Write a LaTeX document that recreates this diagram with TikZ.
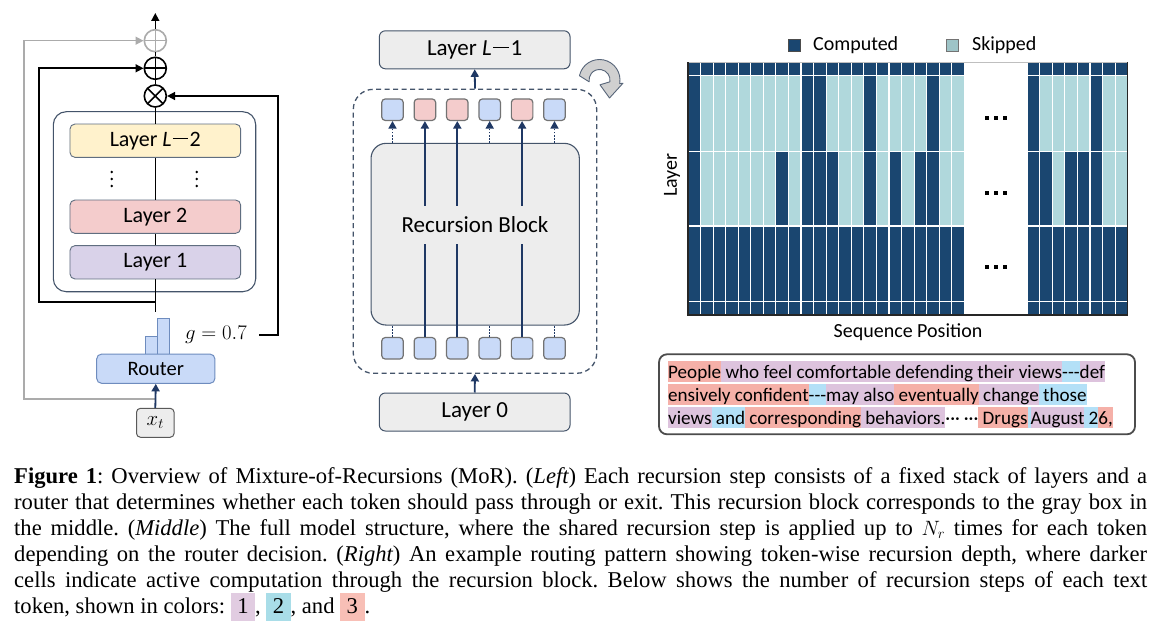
\documentclass[tikz,border=0pt]{standalone}
\usepackage{fontspec}
\setmainfont{Carlito}
\newfontfamily\capfont{Liberation Serif}
\usetikzlibrary{arrows.meta,calc}

\definecolor{navy}{RGB}{31,56,100}
\definecolor{bord}{RGB}{68,84,106}
\definecolor{boxg}{RGB}{237,237,237}
\definecolor{yel}{RGB}{255,242,204}
\definecolor{pnk}{RGB}{244,204,204}
\definecolor{lav}{RGB}{217,210,233}
\definecolor{lblu}{RGB}{201,218,248}
\definecolor{barb}{RGB}{110,140,190}
\definecolor{hmD}{RGB}{26,70,112}
\definecolor{hmL}{RGB}{176,216,220}
\definecolor{skp}{RGB}{158,196,199}
\definecolor{cA}{RGB}{221,195,221}
\definecolor{cB}{RGB}{179,224,247}
\definecolor{cC}{RGB}{245,176,168}
\definecolor{kA}{RGB}{225,204,225}
\definecolor{kB}{RGB}{169,221,232}
\definecolor{kC}{RGB}{248,191,182}
\definecolor{icon}{RGB}{208,208,208}

\newcommand\hlt[2]{{\setlength\fboxsep{0pt}\colorbox{#1}{\rule[-4pt]{0pt}{21.5pt}#2}}}
\newcommand\tdash{\mbox{-}\mbox{-}\mbox{-}}
\newcommand\ldash{\hspace{0.06em}\rule[0.3em]{0.7em}{0.07em}\hspace{0.06em}}
\newcommand\cbx[2]{{\setlength\fboxsep{0pt}\colorbox{#1}{\rule[-8pt]{0pt}{28pt}\hspace{6.5pt}#2\hspace{6.5pt}}}}
\newcommand\hrow[4]{%
  \foreach \v [count=\i from 0] in {#4} {%
    \ifnum\v=1 \def\cc{hmD}\else\def\cc{hmL}\fi
    \path[fill=\cc, draw=white, line width=1.1] ({#3+\i*12.56},#1) rectangle ({#3+\i*12.56+12.56},#2);
  }}

\tikzset{
  lay/.style={draw=bord!85, line width=0.9, rounded corners=5, minimum width=170.7, minimum height=33.3, inner sep=0, font=\fontsize{22}{26}\selectfont},
  mlay/.style={draw=bord, line width=1, fill=boxg, rounded corners=6, minimum width=190.7, minimum height=38, inner sep=0, font=\fontsize{23}{27}\selectfont},
  tok/.style={draw=black!55, line width=1.2, rounded corners=3.5, minimum size=21.5, inner sep=0},
  opc/.style={circle, draw, line width=1.6, minimum size=22, inner sep=0},
  plusp/.style={path picture={\draw[line width=1.6, #1] (path picture bounding box.north) -- (path picture bounding box.south) (path picture bounding box.west) -- (path picture bounding box.east);}},
  crossp/.style={path picture={\draw[line width=1.6] (path picture bounding box.north west) -- (path picture bounding box.south east) (path picture bounding box.north east) -- (path picture bounding box.south west);}},
  conn/.style={line width=1.6, black},
  arr/.style={conn, -{Triangle[length=8pt, width=8pt]}},
  garr/.style={line width=1.5, black!33, -{Triangle[length=8pt, width=8pt]}},
  nline/.style={line width=1.8, navy},
  narr/.style={nline, -{Triangle[length=7.5pt, width=8pt]}},
  ndot/.style={line width=1.5, navy, dash pattern=on 1.5pt off 1.6pt},
  bar/.style={draw=barb, line width=0.9, fill=lblu, inner sep=0},
  lbl/.style={inner sep=0, font=\fontsize{20}{24}\selectfont},
}

\begin{document}
\begin{tikzpicture}[x=1pt, y=-1pt]
\useasboundingbox (0,0) rectangle (1162,631);
\fill[white] (0,0) rectangle (1162,631);

% ================= LEFT =================
\node[draw=bord, line width=1.1, rounded corners=13, minimum width=202.4, minimum height=180, inner sep=0] (outer) at (154.5,201.7) {};
\node[lay, fill=yel] (L2) at (155.3,140.7) {Layer \textit{L}\ldash 2};
\node[lay, fill=pnk] (Lay2) at (155.3,216.7) {Layer 2};
\node[lay, fill=lav] (Lay1) at (155.3,262.3) {Layer 1};
\foreach \xx in {111.7,196.7} \foreach \yy in {172,179,186} \fill ({\xx},{\yy}) circle[radius=1.4];

\node[opc, crossp] (mul) at (155.3,96) {};
\node[opc, plusp=black] (add) at (155.3,68.3) {};
\node[opc, draw=black!33, plusp=black!33] (addg) at (155.3,40.7) {};
\coordinate (topend) at (155.3,13);

\node[bar, minimum width=12, minimum height=17.3] (barS) at (151.3,345.35) {};
\node[bar, minimum width=11.7, minimum height=35.7] (barT) at (163.15,336.15) {};
\node[draw=barb, line width=1, fill=lblu, rounded corners=5, minimum width=118.3, minimum height=29.3, inner sep=0, font=\fontsize{20.5}{24}\selectfont] (router) at (155.8,368.7) {Router};
\node[draw=black!65, line width=1, fill=boxg, rounded corners=4, minimum width=37.6, minimum height=29, inner sep=0, font=\fontsize{22}{26}\selectfont] (xt) at (155.3,422.8) {$x_t$};
\node[inner sep=0, font=\fontsize{21}{25}\selectfont] (glab) at (216,335) {$g = 0.7$};

\draw[arr] (addg.north) -- (topend);
\draw[conn] (add.north) -- (addg.south);
\draw[conn] (mul.north) -- (add.south);
\draw[conn, line width=1.3] (L2.north) -- (mul.south);
\draw[conn, line width=1.3] (Lay2.north) -- (L2.south);
\draw[conn, line width=1.3] (Lay1.north) -- (Lay2.south);
\coordinate (lowend) at (155.3,311.7);
\coordinate (skipb) at (155.3,301.7);
\draw[conn, line width=1.3] (Lay1.south) -- (lowend);
\draw[arr] (skipb) -- ++(-116.3,0) |- (add.west);
\coordinate (gend) at ([xshift=12.5]glab.east);
\draw[arr] (gend) -- ++(18.5,0) |- (mul.east);
\coordinate (gsplit) at (155.3,399);
\draw[garr] (gsplit) -- ++(-131.3,0) |- (addg.west);
\draw[narr] (xt.north) -- (router.south);

% ================= MIDDLE =================
\node[draw=bord, line width=1.3, dash pattern=on 5pt off 3.5pt, rounded corners=20, minimum width=243.4, minimum height=284, inner sep=0] (rec) at (475,231.3) {};
\node[draw=bord, line width=1.1, fill=boxg, rounded corners=15, minimum width=208.3, minimum height=181.7, inner sep=0] (blk2) at (475.2,234.2) {};
\node[inner sep=0, minimum height=38, font=\fontsize{23}{27}\selectfont] (rbt) at (475,225) {Recursion Block};
\node[mlay] (LLm1) at (474.7,49.8) {Layer \textit{L}\ldash 1};
\node[mlay] (L0) at (474.7,412) {Layer 0};

\foreach \i/\c in {1/lblu,2/pnk,3/pnk,4/lblu,5/pnk,6/lblu}
  \node[tok, fill=\c] (t\i) at ({392.5+(\i-1)*32.4},109.7) {};
\foreach \i in {1,...,6}
  \node[tok, fill=lblu] (b\i) at ({392.5+(\i-1)*32.4},348.3) {};
\foreach \i in {2,3,5} {
  \draw[nline] (b\i.north) -- (b\i.north |- rbt.south);
  \draw[narr] (t\i.south |- rbt.north) -- (t\i.south);
}
\foreach \i in {1,4,6} {
  \draw[ndot] (b\i.north) -- (b\i.north |- blk2.south);
  \draw[ndot, -{Triangle[length=7.5pt, width=8pt]}] (t\i.south |- blk2.north) -- (t\i.south);
}
\draw[narr] (L0.north) -- (rec.south);
\draw[narr] (rec.north) -- (LLm1.south);

% recurrence icon
\begin{scope}[shift={(599.5,80)}, yscale=-1]
\filldraw[fill=icon, draw=bord!90, line width=0.9, line join=round]
  (168:20.5) arc[start angle=168, end angle=-10, radius=20.5] -- (23.5,-3.2) -- (10,-18) -- (0.5,-4.8)
  -- (-10:10.5) arc[start angle=-10, end angle=190, radius=10.5] -- cycle;
\end{scope}

% ================= RIGHT: heatmap =================
\hrow{62.3}{75.7}{688}{1,1,1,1,1,1,1,1,1,1,1,1,1,1,1,1,1,1,1,1,1,1}
\hrow{75.7}{151.7}{688}{1,0,0,0,0,0,0,0,0,1,1,0,0,0,1,0,0,0,0,1,0,0}
\hrow{151.7}{226}{688}{1,0,0,0,0,0,0,1,0,1,1,1,0,0,1,0,1,0,1,1,0,0}
\hrow{226}{301.7}{688}{1,1,1,1,1,1,1,1,1,1,1,1,1,1,1,1,1,1,1,1,1,1}
\hrow{301.7}{315}{688}{1,1,1,1,1,1,1,1,1,1,1,1,1,1,1,1,1,1,1,1,1,1}
\hrow{62.3}{75.7}{1027.2}{1,1,1,1,1,1,1,1}
\hrow{75.7}{151.7}{1027.2}{1,0,0,0,0,1,0,0}
\hrow{151.7}{226}{1027.2}{1,1,0,1,1,1,0,0}
\hrow{226}{301.7}{1027.2}{1,1,1,1,1,1,1,1}
\hrow{301.7}{315}{1027.2}{1,1,1,1,1,1,1,1}
\draw[line width=1, black!25] (688,62.3) -- (1127.7,62.3);
\draw[line width=1.4, black!85] (688,62.3) -- (688,315) -- (1127.7,315) -- (1127.7,62.3);
\foreach \yy in {118.3,192.7,267.3} \foreach \xx in {985,994,1002.7}
  \fill ({\xx},{\yy-2.15}) rectangle ++(4.3,4.3);

% legend and axis labels
\node[draw=black!70, line width=0.8, fill=hmD, minimum size=12, inner sep=0] (lgC) at (794,45) {};
\node[lbl, anchor=west] (lgCt) at ([xshift=12.5]lgC.east) {Computed};
\node[draw=black!55, line width=0.8, fill=skp, minimum size=12, inner sep=0] (lgS) at (952.5,45) {};
\node[lbl, anchor=west] (lgSt) at ([xshift=13]lgS.east) {Skipped};
\node[lbl, rotate=90] (ylab) at (672,175) {Layer};
\node[lbl] (xlab) at (908,332) {Sequence Position};

% text box
\node[draw=black!70, line width=1.8, rounded corners=8, minimum width=476, minimum height=80, inner sep=0] (tbox) at (897,394.3) {};
\begin{scope}[every node/.style={anchor=base west, inner sep=0, font=\fontsize{19.1}{23}\selectfont}]
\node (tl1) at (668,378) {\hlt{cC}{People}\hlt{cA}{ who feel comfortable defending their views}\hlt{cB}{\tdash}\hlt{cA}{def}};
\node (tl2) at (668,401) {\hlt{cC}{ensively}\hlt{cC}{ confident}\hlt{cB}{\tdash}\hlt{cA}{may also}\hlt{cC}{ eventually}\hlt{cA}{ change}\hlt{cB}{ those}};
\node (tl3) at (668,424) {\hlt{cA}{views}\hlt{cB}{ and}\hlt{cC}{ corresponding}\hlt{cA}{ behaviors.}···\hspace{4pt}···\hlt{cC}{ Drugs}\hlt{cB}{\hspace{3pt}}\hlt{cA}{August}\hlt{cB}{ 2}\hlt{cC}{6,}};
\end{scope}

% ================= CAPTION =================
\begin{scope}[every node/.style={anchor=base west, inner sep=0, font=\capfont\fontsize{22.6}{26}\selectfont\frenchspacing}]
\node (c1) at (14,483) {\makebox[1133pt][s]{{\bfseries Figure 1}: Overview of Mixture-of-Recursions (MoR). ({\itshape Left}) Each recursion step consists of a fixed stack of layers and a}};
\node (c2) at (14,509) {\makebox[1133pt][s]{router that determines whether each token should pass through or exit. This recursion block corresponds to the gray box in}};
\node (c3) at (14,535) {\makebox[1133pt][s]{the middle. ({\itshape Middle}) The full model structure, where the shared recursion step is applied up to $N_r$ times for each token}};
\node (c4) at (14,561) {\makebox[1133pt][s]{depending on the router decision. ({\itshape Right}) An example routing pattern showing token-wise recursion depth, where darker}};
\node (c5) at (14,587) {\makebox[1133pt][s]{cells indicate active computation through the recursion block. Below shows the number of recursion steps of each text}};
\node (c6) at (14,613) {token, shown in colors: \cbx{kA}{1}, \cbx{kB}{2}, and \cbx{kC}{3}.};
\end{scope}
\end{tikzpicture}
\end{document}
